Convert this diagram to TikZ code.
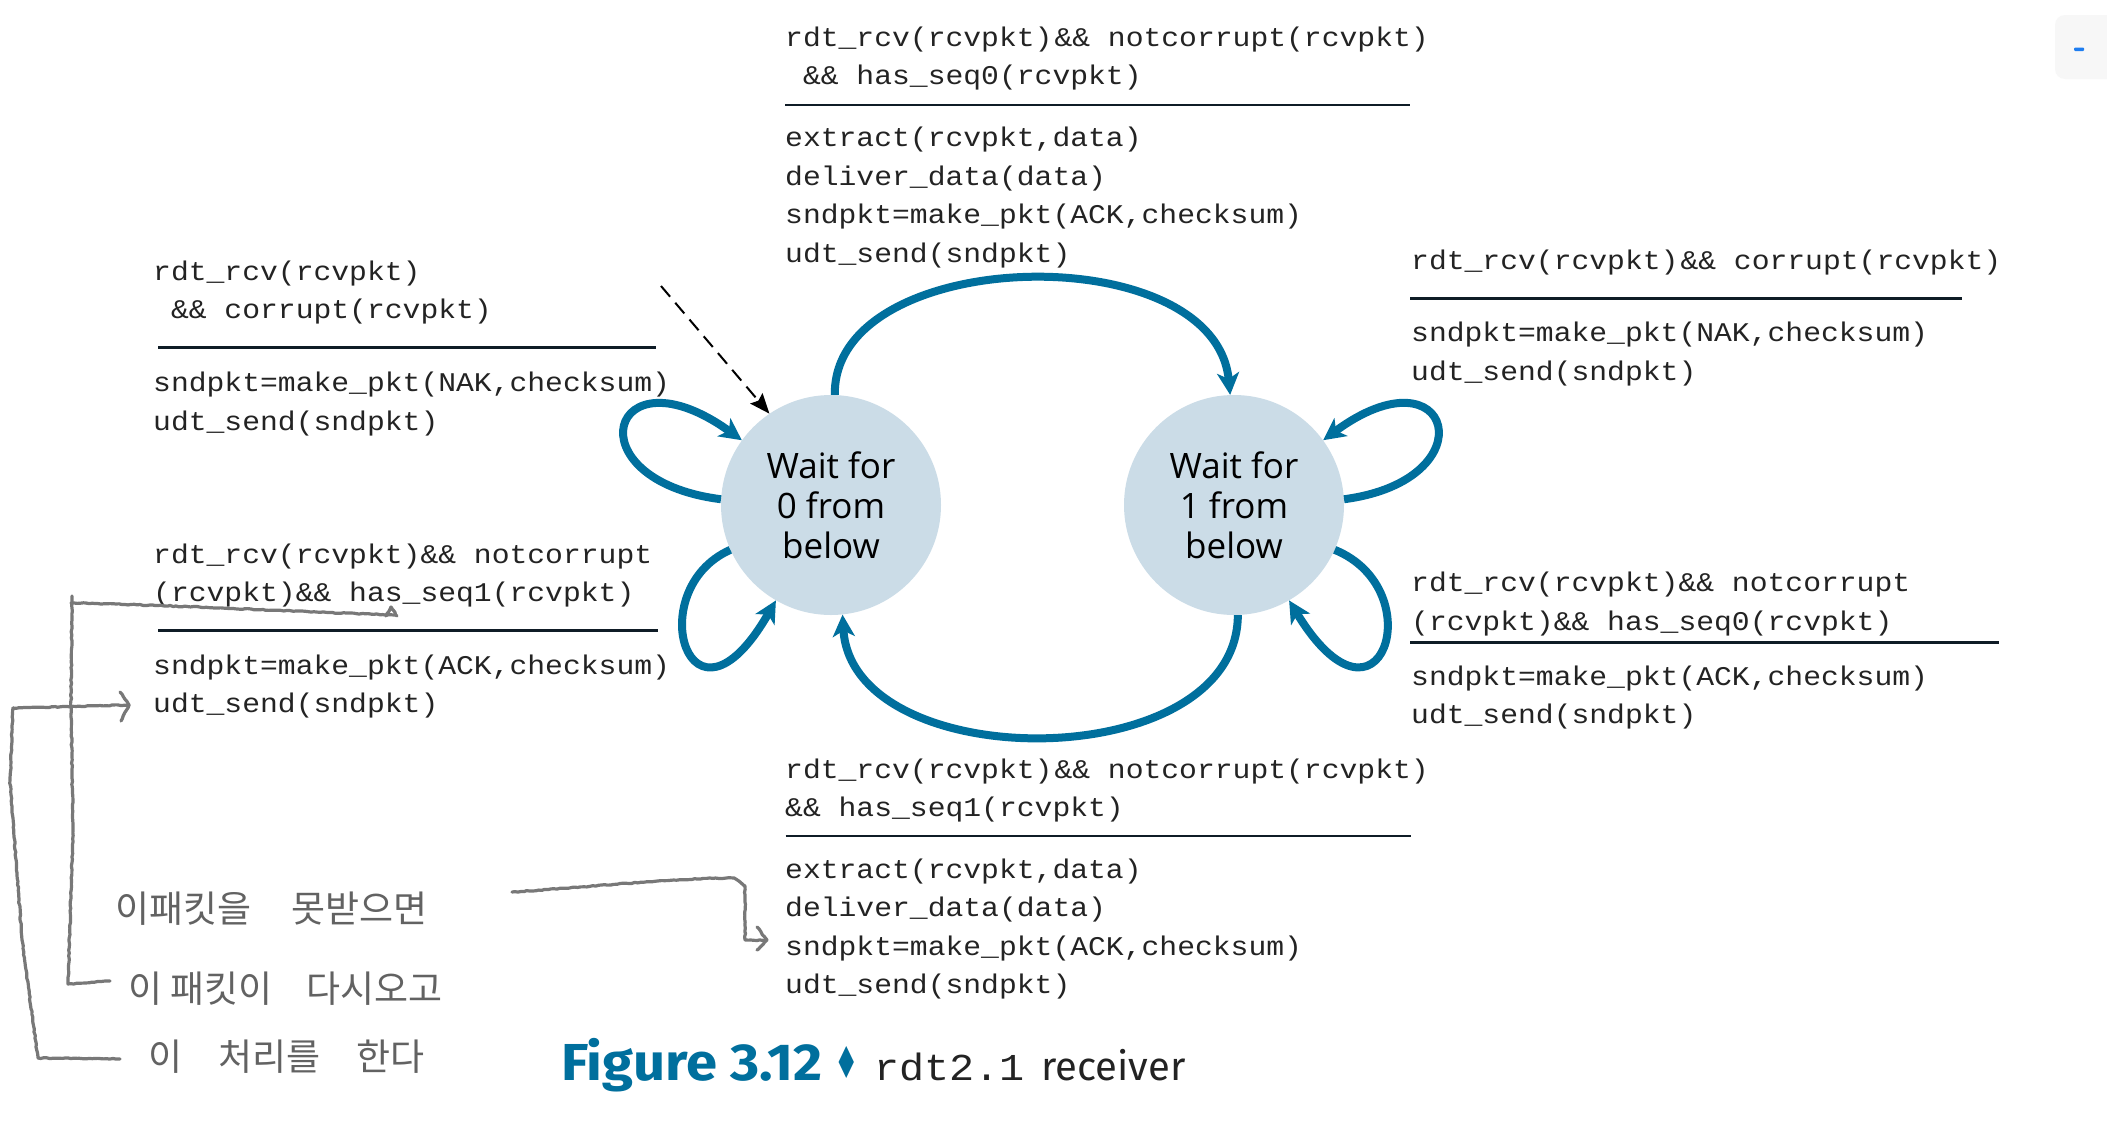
\documentclass[tikz,border=0pt]{standalone}
\usepackage{fontspec}
\usetikzlibrary{arrows.meta,decorations.pathmorphing}
\setmainfont{Open Sans}
\newfontfamily\codefamily[FakeStretch=1.1]{Liberation Mono}
\newfontfamily\statefamily{Open Sans}
\newfontfamily\capfamily{Fira Sans}
\newfontfamily\capwide[FakeStretch=1.08]{Fira Sans}
\newfontfamily\symfamily{DejaVu Sans}
\newfontfamily\hangul{Noto Sans CJK KR}

\definecolor{fsmblue}{RGB}{0,111,157}
\definecolor{statefill}{RGB}{203,220,231}
\definecolor{rulecolor}{RGB}{15,28,38}
\definecolor{codeink}{RGB}{35,35,35}
\definecolor{pencil}{RGB}{120,120,120}
\definecolor{pencilink}{RGB}{98,98,98}
\definecolor{uibg}{RGB}{247,247,247}
\definecolor{uiblue}{RGB}{30,125,240}

% monospace action text, 38.5pt between lines
\newcommand\codefont{\codefamily\fontsize{27}{38.5}\selectfont}
\newcommand\codelines[1]{\begin{tabular}[t]{@{}l@{}}#1\end{tabular}}

\begin{document}
\begin{tikzpicture}[x=1pt,y=1pt,
  state/.style={circle, fill=statefill, minimum size=220pt, inner sep=0pt,
    align=center, font=\statefamily\fontsize{35}{40}\selectfont},
  code/.style={anchor=base west, inner sep=0pt, text=codeink, font=\codefont},
  guard/.style={draw=rulecolor, line width=2.6pt},
  trans/.style={draw=fsmblue, line width=8pt,
    -{Stealth[length=22pt,width=22pt,inset=6pt]}},
  initial/.style={draw=black, line width=2pt, dash pattern=on 14pt off 8pt,
    -{Stealth[length=20pt,width=16pt,inset=3pt]}},
  pencilline/.style={draw=pencil, line width=3.2pt, line join=round, line cap=round,
    decoration={random steps, segment length=3pt, amplitude=0.5pt}, decorate},
  hand/.style={anchor=base west, inner sep=0pt, text=pencilink,
    font=\hangul\fontsize{37}{40}\selectfont},
]
\pgfmathsetseed{7}
\fill[white] (0,0) rectangle (2107,-1135);
\useasboundingbox (0,0) rectangle (2107,-1135);

% small toolbar widget in the corner
\fill[uibg, rounded corners=10pt] (2055,-15) rectangle (2130,-79);
\fill[uiblue, rounded corners=1pt] (2074,-47.5) rectangle (2084,-51);

% states
\node[state] (L) at (831,-505) {Wait for\\0 from\\below};
\node[state] (R) at (1234,-505) {Wait for\\1 from\\below};

% initial-state arrow
\coordinate (init) at (661,-286);
\draw[initial] (init) -- (L.124);

% transitions between the states
\draw[trans] (L.88) .. controls (832,-245) and (1215,-235) .. (R.92);
\draw[trans] (R.-88) .. controls (1237,-777) and (852,-777) .. (L.-84);

% self loops
\draw[trans] (L.177) .. controls (570,-480) and (610,-345) .. (L.144);
\draw[trans] (L.204) .. controls (640,-590) and (690,-750) .. (L.240);
\draw[trans] (R.3) .. controls (1490,-480) and (1452,-345) .. (R.36);
\draw[trans] (R.-24) .. controls (1433,-590) and (1380,-750) .. (R.-60);

% top: 0 -> 1
\node[code] (t0c) at (785,-46) {\codelines{rdt\_rcv(rcvpkt)\kern2pt\&\& notcorrupt(rcvpkt)\\\ \&\& has\_seq0(rcvpkt)}};
\draw[guard] (785,-105) -- (1410,-105);
\node[code] (t0a) at (785,-146.7) {\codelines{extract(rcvpkt,data)\\deliver\_data(data)\\sndpkt=make\_pkt(ACK,checksum)\\udt\_send(sndpkt)}};

% right upper loop
\node[code] (r0c) at (1411,-269.3) {rdt\_rcv(rcvpkt)\kern2pt\&\& corrupt(rcvpkt)};
\draw[guard] (1410,-298.3) -- (1962,-298.3);
\node[code] (r0a) at (1411,-341.7) {\codelines{sndpkt=make\_pkt(NAK,checksum)\\udt\_send(sndpkt)}};

% left upper loop
\node[code] (l0c) at (153,-280) {\codelines{rdt\_rcv(rcvpkt)\\\ \&\& corrupt(rcvpkt)}};
\draw[guard] (158,-347.3) -- (656,-347.3);
\node[code] (l0a) at (153,-391.7) {\codelines{sndpkt=make\_pkt(NAK,checksum)\\udt\_send(sndpkt)}};

% left lower loop
\node[code] (l1c) at (153,-563.3) {\codelines{rdt\_rcv(rcvpkt)\&\& notcorrupt\\(rcvpkt)\&\& has\_seq1(rcvpkt)}};
\draw[guard] (158,-630.7) -- (658,-630.7);
\node[code] (l1a) at (153,-674) {\codelines{sndpkt=make\_pkt(ACK,checksum)\\udt\_send(sndpkt)}};

% right lower loop
\node[code] (r1c) at (1411,-591.7) {\codelines{rdt\_rcv(rcvpkt)\&\& notcorrupt\\(rcvpkt)\&\& has\_seq0(rcvpkt)}};
\draw[guard] (1410,-642.7) -- (1999,-642.7);
\node[code] (r1a) at (1411,-685) {\codelines{sndpkt=make\_pkt(ACK,checksum)\\udt\_send(sndpkt)}};

% bottom: 1 -> 0
\node[code] (b1c) at (785,-778.3) {\codelines{rdt\_rcv(rcvpkt)\kern2pt\&\& notcorrupt(rcvpkt)\\\&\& has\_seq1(rcvpkt)}};
\draw[guard] (785.5,-836) -- (1410.5,-836);
\node[code] (b1a) at (785,-878.3) {\codelines{extract(rcvpkt,data)\\deliver\_data(data)\\sndpkt=make\_pkt(ACK,checksum)\\udt\_send(sndpkt)}};

% caption
\node[anchor=base west, inner sep=0pt, text=fsmblue,
  font=\capwide\bfseries\fontsize{52}{56}\selectfont] (figno) at (561,-1080) {Figure 3.12};
\node[anchor=base west, inner sep=0pt, text=fsmblue,
  font=\symfamily\fontsize{44}{46}\selectfont] (diam) at (834,-1078) {\scalebox{0.62}[1]{♦}};
\node[anchor=base west, inner sep=0pt, text=codeink,
  font=\codefamily\fontsize{38}{40}\selectfont] (rdtname) at (874,-1080) {rdt2.1};
\node[anchor=base west, inner sep=0pt, text=codeink,
  font=\capfamily\fontsize{40}{44}\selectfont] (recv) at (1041,-1080) {receiver};

% pencil notes
\node[hand] (k1) at (115,-922) {이패킷을\hspace{40pt}못받으면};
\node[hand] (k2) at (128,-1002) {이\hspace{8pt}패킷이\hspace{34pt}다시오고};
\node[hand] (k3) at (148,-1070) {이\hspace{36pt}처리를\hspace{36pt}한다};

\coordinate (u0) at (71,-603);
\coordinate (u1) at (395,-615);
\coordinate (c1) at (110,-981);
\coordinate (s0) at (13,-708);
\coordinate (s1) at (129,-705);
\coordinate (c2) at (120,-1059);
\coordinate (a0) at (512,-892);
\coordinate (a1) at (767,-940);

\draw[pencilline] (u0) .. controls (200,-606) and (300,-612) .. (u1);
\draw[pencilline] (386,-616) -- (391,-607) -- (397,-616);
\draw[pencilline] (72,-596) -- (71,-700) -- (73,-830) -- (68,-984) -- (c1);
\draw[pencilline] (s0) -- (s1);
\draw[pencilline] (120,-692) -- (s1) -- (121,-721);
\draw[pencilline] (s0) -- (10,-780) -- (22,-940) -- (38,-1058) -- (c2);
\draw[pencilline] (a0) .. controls (600,-886) and (680,-878) .. (734,-878) -- (745,-886) -- (745,-940) -- (a1);
\draw[pencilline] (757,-927) -- (a1) -- (757,-950);
\end{tikzpicture}
\end{document}
